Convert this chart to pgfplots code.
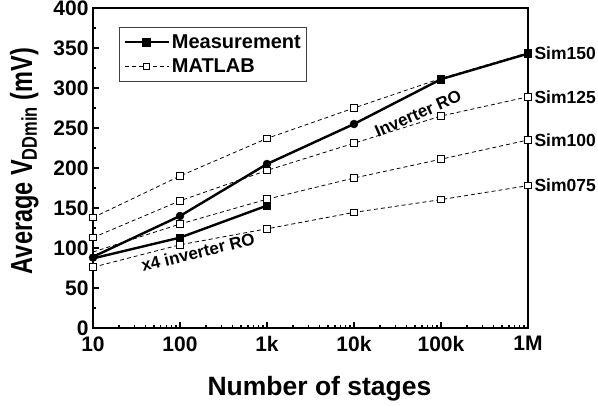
\documentclass[border=0pt]{standalone}
\usepackage{fontspec}
\setmainfont{Liberation Sans}
\usepackage{pgfplots}
\pgfplotsset{compat=1.18}

\pgfplotsset{
  meas/.style={black, line width=2.4pt, solid},
  sim/.style={black, line width=0.8pt, dash pattern=on 4pt off 3pt},
  simmark/.style={only marks, mark=square*, mark size=3.3pt,
    mark options={solid, fill=white, draw=black, line width=0.9pt}},
}
\newcommand{\simfont}{\fontsize{17.5}{17.5}\selectfont\bfseries}
\newcommand{\notefont}{\fontsize{17}{17}\selectfont\bfseries}

\begin{document}
\begin{tikzpicture}
\useasboundingbox (-93pt,-77pt) rectangle (505pt,328pt);
\begin{axis}[
  at={(0pt,0pt)}, anchor=south west,
  scale only axis, width=435pt, height=320pt,
  xmode=log, xmin=10, xmax=1e6, ymin=0, ymax=400,
  xtick={10,100,1000,10000,100000,1000000},
  xticklabels={10,100,1k,10k,100k,1M},
  ytick={0,50,...,400},
  minor ytick={25,75,...,375},
  tick align=inside,
  xtick pos=bottom, ytick pos=left,
  axis line style={line width=2.2pt},
  major tick length=6pt, minor tick length=3.5pt,
  every tick/.style={line width=1.6pt, black},
  ticklabel style={font=\fontsize{21}{21}\selectfont\bfseries},
  xticklabel style={yshift=-5pt},
  yticklabel style={xshift=-1pt},
  /pgf/number format/assume math mode=true,
  xlabel={Number of stages},
  ylabel={Average V\textsubscript{DDmin} (mV)},
  xlabel style={font=\fontsize{26.5}{26.5}\selectfont\bfseries,
    at={(axis description cs:0.5,0)}, anchor=base,
    yshift=-67pt, xshift=9pt},
  ylabel style={font=\fontsize{23.5}{23.5}\selectfont\bfseries,
    at={(axis description cs:-0.140,0.522)}, anchor=base, yscale=1.3},
  clip=false,
  legend style={at={(0.06,0.94)}, anchor=north west,
    draw=black!75, line width=0.8pt,
    font=\fontsize{20}{20}\selectfont\bfseries,
    inner xsep=4pt, inner ysep=5pt, row sep=5pt},
  legend cell align=left,
  legend image code/.code={%
    \draw[mark repeat=2, mark phase=2]
      plot coordinates {(8pt,0pt) (30pt,0pt) (52pt,0pt)};},
]
\addlegendimage{meas, mark=square*, mark size=3.2pt, mark options={solid}}
\addlegendentry{Measurement}
\addlegendimage{sim, mark=square*, mark size=3.2pt,
  mark options={solid, fill=white, line width=0.9pt}}
\addlegendentry{MATLAB}

% MATLAB model curves
\addplot[sim, forget plot] coordinates {(10,138) (100,190) (1000,237) (10000,275) (100000,312) (1000000,344)};
\addplot[sim, forget plot] coordinates {(10,113) (100,159) (1000,197) (10000,231) (100000,265) (1000000,289)};
\addplot[sim, forget plot] coordinates {(10,95) (100,130) (1000,161) (10000,187.5) (100000,211) (1000000,235)};
\addplot[sim, forget plot] coordinates {(10,76) (100,104) (1000,124) (10000,144.5) (100000,160.5) (1000000,178)};
\addplot[simmark, forget plot] coordinates {(10,138) (100,190) (1000,237) (10000,275) (100000,312) (1000000,344)};
\addplot[simmark, forget plot] coordinates {(10,113) (100,159) (1000,197) (10000,231) (100000,265) (1000000,289)};
\addplot[simmark, forget plot] coordinates {(100,130) (1000,161) (10000,187.5) (100000,211) (1000000,235)};
\addplot[simmark, forget plot] coordinates {(10,76) (100,104) (1000,124) (10000,144.5) (100000,160.5) (1000000,178)};

% measured rings
\addplot[meas, forget plot] coordinates {(10,89) (100,140) (1000,205) (10000,255) (100000,311) (1000000,343)};
\addplot[meas, forget plot] coordinates {(10,87) (100,113) (1000,153)};
\addplot[only marks, mark=*, mark size=4pt, black, forget plot] coordinates {(10,88) (100,140) (1000,205) (10000,255)};
\addplot[only marks, mark=square*, mark size=3.6pt, black, forget plot] coordinates {(100000,311) (1000000,343) (100,113) (1000,153)};

% curve labels
\node[anchor=west, font=\simfont, xshift=3pt] at (axis cs:1e6,344) {Sim150};
\node[anchor=west, font=\simfont, xshift=3pt] at (axis cs:1e6,289) {Sim125};
\node[anchor=west, font=\simfont, xshift=3pt] at (axis cs:1e6,235) {Sim100};
\node[anchor=west, font=\simfont, xshift=3pt] at (axis cs:1e6,178) {Sim075};
\node[rotate=24, font=\notefont] at (axis cs:54500,268) {Inverter RO};
\node[rotate=14, font=\notefont] at (axis cs:161,95) {x4 inverter RO};
\end{axis}
\end{tikzpicture}
\end{document}
